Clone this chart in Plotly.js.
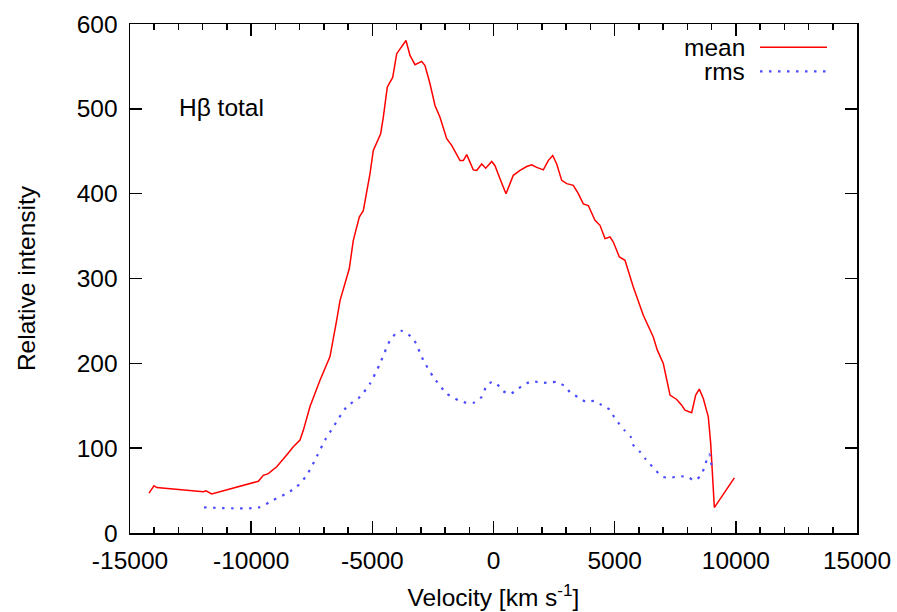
<!DOCTYPE html>
<html>
<head>
<meta charset="utf-8">
<script src="https://cdn.plot.ly/plotly-3.0.1.min.js"></script>
<style>html,body{margin:0;padding:0;background:#fff;}#chart{width:897px;height:612px;}</style>
</head>
<body>
<div id="chart"></div>
<script>
var meanVel = [-14216,-14010,-13900,-11975,-11864,-11630,-9705,-9499,-9293,-8946,-8534,-8260,-7985,-7848,-7572,-7160,-6747,-6611,-6471,-6334,-5950,-5785,-5538,-5373,-5233,-5096,-4960,-4795,-4656,-4548,-4383,-4271,-4160,-3994,-3858,-3611,-3446,-3239,-2963,-2827,-2620,-2414,-2208,-1931,-1725,-1382,-1246,-1106,-834,-693,-487,-322,-74,62,268,516,817,1094,1370,1576,1783,2055,2261,2443,2608,2814,3021,3293,3500,3706,3912,4188,4395,4601,4808,4944,5192,5426,5769,6182,6594,6760,7007,7147,7284,7560,7766,7902,8178,8344,8494,8658,8864,8963,9045,9113,9938];
var meanInt = [47,55.7,53.5,48.6,49.8,46,61,68,70,78,92,101.6,109.5,121,149,180,208,227,251,274,311.7,345,372.5,380,400,423.6,451,463,470.7,490,525.6,531.5,537,565,571,580.6,563,552,556,551,529.6,504,490,464.8,457,439,439,446,428,427.5,435,430,438,433,417.7,400,421.6,427.5,432,434,431,428,439,445,435,415.7,411.8,409.8,400,388,386,368.6,362.7,347,349,343,325.4,321.5,290,256.7,231,215.5,199.8,182,162.5,157.4,150.7,144.8,141.7,162.5,169.6,158.6,137,105.6,66,30,65];

var rmsVel = [-11946,-9705,-9087,-8534,-8121,-7709,-7296,-6953,-6611,-6059,-5509,-5096,-4684,-4271,-3994,-3788,-3310,-2897,-2484,-1931,-1452,-1106,-834,-487,-310,-74,132,380,681,957,1300,1618,1960,2331,2608,2950,3186,3500,3817,4160,4465,4779,4973,5192,5426,5660,5769,6045,6252,6458,6706,6982,7284,7668,8040,8315,8563,8686,8798,8906,9004];
var rmsInt = [30.2,30,39,46.7,54.5,68,90,109.5,125,148.7,160.5,176,199.8,227,236,238.3,229,203.7,184,164.5,156.6,153.4,153.4,160.5,172,178,176,167.6,163.7,169,175.5,179,177,177.5,178,173,165,160,154.6,155.8,150.7,145.7,137,128.4,120.5,113.4,103.6,95.7,88,81.3,73.4,66.3,65,67,65.6,61.6,68.3,76,86,92.7,79];

var xTickVals = [-15000, -10000, -5000, 0, 5000, 10000, 15000];
var xTickText = ['-15000', '-10000', '-5000', '0', '5000', '10000', '15000'];
var yTickVals = [0, 100, 200, 300, 400, 500, 600];
var yTickText = ['0', '100', '200', '300', '400', '500', '600'];

var seriesNames = ['mean', 'rms'];
var xTitle = 'Velocity [km s<sup>-1</sup>]';
var yTitle = 'Relative intensity';
var label = 'Hβ total';

var FONT = 'Liberation Sans, Arial, Helvetica, sans-serif';
var FS = 24.5;
var meanColor = '#ff0000';
var rmsColor = '#4a4aff';

var traces = [
  {x: meanVel, y: meanInt, type: 'scatter', mode: 'lines', name: seriesNames[0],
   line: {color: meanColor, width: 1.5}},
  {x: rmsVel, y: rmsInt, type: 'scatter', mode: 'lines', name: seriesNames[1],
   line: {color: rmsColor, width: 2.2, dash: '2.5px,6.5px', shape: 'spline', smoothing: 0.6}}
];

var axisCommon = {
  showgrid: false, zeroline: false, showline: true, linecolor: '#000', linewidth: 1.5,
  mirror: 'allticks', ticks: 'inside', ticklen: 12, tickwidth: 1.5, tickcolor: '#000',
  tickfont: {family: FONT, size: FS, color: '#000'}
};

var layout = {
  width: 897, height: 612,
  margin: {l: 130, r: 40, t: 23.5, b: 79, pad: 0},
  paper_bgcolor: '#fff', plot_bgcolor: '#fff',
  showlegend: false,
  font: {family: FONT, size: FS, color: '#000'},
  xaxis: Object.assign({}, axisCommon, {
    range: [-15000, 15000], tickmode: 'array', tickvals: xTickVals, ticktext: xTickText,
    minor: {dtick: 1000, tick0: -15000, ticks: 'inside', ticklen: 6, tickwidth: 1.5, tickcolor: '#000', showgrid: false},
    ticklabelstandoff: 5,
    title: {text: xTitle, font: {family: FONT, size: FS, color: '#000'}, standoff: 16}
  }),
  yaxis: Object.assign({}, axisCommon, {
    range: [0, 600], tickmode: 'array', tickvals: yTickVals, ticktext: yTickText,
    ticklabelstandoff: 6,
    title: {text: yTitle, font: {family: FONT, size: FS, color: '#000'}, standoff: 34}
  }),
  annotations: [
    {text: label, xref: 'paper', yref: 'paper', x: 0.1259, y: 0.836, xanchor: 'center', yanchor: 'middle',
     showarrow: false, font: {family: FONT, size: FS, color: '#000'}},
    {text: seriesNames[0], xref: 'paper', yref: 'paper', x: 0.847, y: 0.9545, xanchor: 'right', yanchor: 'middle',
     showarrow: false, height: 22, borderpad: 0, font: {family: FONT, size: FS, color: '#000'}},
    {text: seriesNames[1], xref: 'paper', yref: 'paper', x: 0.847, y: 0.9068, xanchor: 'right', yanchor: 'middle',
     showarrow: false, height: 22, borderpad: 0, font: {family: FONT, size: FS, color: '#000'}}
  ],
  shapes: [
    {type: 'line', xref: 'paper', yref: 'paper', x0: 0.8666, x1: 0.9587, y0: 0.9545, y1: 0.9545,
     line: {color: meanColor, width: 1.5}},
    {type: 'line', xref: 'paper', yref: 'paper', x0: 0.8666, x1: 0.9587, y0: 0.9068, y1: 0.9068,
     line: {color: rmsColor, width: 2.2, dash: '2.5px,6.5px'}}
  ]
};

Plotly.newPlot('chart', traces, layout, {displayModeBar: false, staticPlot: true});
</script>
</body>
</html>
